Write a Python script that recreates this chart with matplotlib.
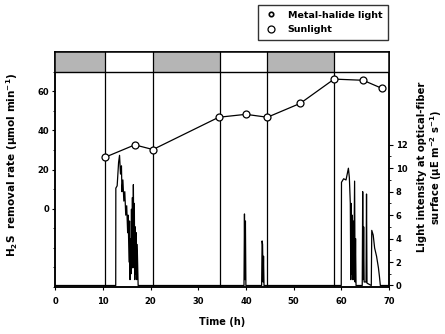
import matplotlib
matplotlib.use("Agg")
import matplotlib.pyplot as plt
import matplotlib.patches as patches
from matplotlib.lines import Line2D

plt.rcParams["font.family"] = "DejaVu Sans"
plt.rcParams["font.weight"] = "bold"
plt.rcParams["font.size"] = 6

# H2S removal rate (left axis)
rate_t = [10.5, 16.7, 20.5, 34.3, 40.0, 44.5, 51.4, 58.5, 64.6, 68.5]
rate_v = [26.3, 32.6, 30.2, 46.7, 48.2, 46.7, 53.8, 66.2, 65.6, 61.5]

# light intensity at optical-fiber surface (right axis)
light_t = [0.0, 12.7, 12.72, 13.0, 13.3, 13.5, 13.7, 13.9, 14.0, 14.2, 14.4,
           14.6, 14.8, 15.0, 15.2, 15.3, 15.5, 15.6, 15.7, 15.8, 15.9, 16.0,
           16.1, 16.2, 16.3, 16.4, 16.5, 16.6, 16.7, 16.8, 16.9, 17.0, 17.1,
           17.2, 17.4,
           39.6, 39.7, 39.8, 39.9, 40.0, 43.3, 43.4, 43.5, 43.6, 43.7, 43.8,
           60.0, 60.05, 60.5, 61.0, 61.3, 61.5, 61.7, 61.9, 62.0, 62.1, 62.2,
           62.3, 62.4, 62.5, 62.6, 62.8, 62.9, 63.0, 63.1, 64.4, 64.5, 64.6,
           64.7, 64.8, 65.2, 65.3, 65.4, 66.3, 66.4, 66.7, 67.0, 67.4, 67.8,
           68.0, 68.2, 70.0]
light_v = [0.0, 0.0, 8.3, 8.5, 10.5, 11.1, 9.5, 10.2, 8.0, 9.0, 7.2,
           8.0, 6.0, 6.8, 4.5, 6.0, 2.0, 5.5, 0.5, 4.0, 1.0, 6.5,
           2.0, 7.5, 1.5, 8.6, 3.0, 7.0, 0.5, 5.0, 1.0, 4.5, 0.5,
           3.5, 0.0,
           0.0, 6.1, 0.5, 5.5, 0.0, 0.0, 3.8, 3.5, 0.3, 2.5, 0.0,
           0.0, 8.8, 9.1, 9.0, 9.6, 10.0, 9.2, 7.0, 0.5, 7.0, 1.0,
           6.0, 0.5, 5.5, 0.5, 8.9, 0.3, 4.0, 0.0, 0.0, 8.0, 0.5,
           5.0, 0.3, 0.3, 7.8, 0.2, 0.0, 4.7, 4.3, 3.2, 2.5, 1.5,
           0.8, 0.0, 0.0]

# light/dark period boundaries (h); shaded = dark
period_edges = [0, 10.5, 20.5, 34.5, 44.5, 58.5, 70]
period_dark = [True, False, True, False, True, False]

fig = plt.figure(figsize=(4.45, 3.34), dpi=100)
ax = fig.add_axes([0.124, 0.141, 0.750, 0.703])
ax2 = ax.twinx()

ax.set_xlim(0, 70)
ax.set_ylim(-40, 80)
ax2.set_ylim(-0.12, 19.9)

# period band on top
for i, dark in enumerate(period_dark):
    x0, x1 = period_edges[i], period_edges[i + 1]
    ax.add_patch(patches.Rectangle((x0, 70), x1 - x0, 10,
                                   facecolor="#b5b5b5" if dark else "white",
                                   edgecolor="none", zorder=1))
ax.axhline(70, color="black", linewidth=1.0, zorder=2)
for x in period_edges[1:-1]:
    ax.axvline(x, color="black", linewidth=0.9, zorder=2)

ax2.plot(light_t, light_v, color="black", linewidth=0.9, zorder=3)

ax.set_zorder(ax2.get_zorder() + 1)
ax.patch.set_visible(False)
ax.plot(rate_t, rate_v, color="black", linewidth=0.9, marker="o",
        markersize=5, markerfacecolor="white", markeredgecolor="black",
        markeredgewidth=0.9, zorder=4)

ax.set_xticks(range(0, 71, 10))
ax.set_yticks([0, 20, 40, 60])
ax.set_yticks(range(-40, 71, 10), minor=True)
ax2.set_yticks(range(0, 13, 2))
ax2.set_yticks(range(0, 13, 1), minor=True)
ax.tick_params(direction="out", length=2.5, width=0.8, labelsize=6, pad=2)
ax.tick_params(axis="x", pad=5)
ax.tick_params(which="minor", direction="out", length=1.5, width=0.6)
ax2.tick_params(direction="out", length=3, width=0.8, labelsize=6, pad=2)
ax2.tick_params(which="minor", direction="out", length=1.5, width=0.6)
for a in (ax, ax2):
    for s in a.spines.values():
        s.set_linewidth(1.1)

ax.set_xlabel("Time (h)", fontsize=7, fontweight="bold", labelpad=8)
ax.set_ylabel("H$_2$S  removal rate (μmol min$^{-1}$)", fontsize=7.5,
              fontweight="bold")
ax.yaxis.set_label_coords(-0.105, 0.52)
ax2.set_ylabel("Light intensity at optical-fiber\nsurface (μE m$^{-2}$ s$^{-1}$)",
               fontsize=7.2, fontweight="bold", linespacing=1.05)
ax2.yaxis.set_label_coords(1.085, 0.51)

handles = [
    Line2D([], [], linestyle="none", marker="o", markersize=3.2,
           markerfacecolor="white", markeredgecolor="black",
           markeredgewidth=1.2),
    Line2D([], [], linestyle="none", marker="o", markersize=5,
           markerfacecolor="white", markeredgecolor="black",
           markeredgewidth=0.9),
]
leg = fig.legend(handles, ["Metal-halide light", "Sunlight"],
                 loc="upper right", bbox_to_anchor=(0.872, 0.985),
                 frameon=True, fancybox=False, fontsize=6.8,
                 handletextpad=1.0, borderpad=0.6, labelspacing=0.55,
                 handlelength=1.6, borderaxespad=0.0)
leg.get_frame().set_edgecolor("black")
leg.get_frame().set_linewidth(1.0)

fig.savefig("out.png", dpi=100)
